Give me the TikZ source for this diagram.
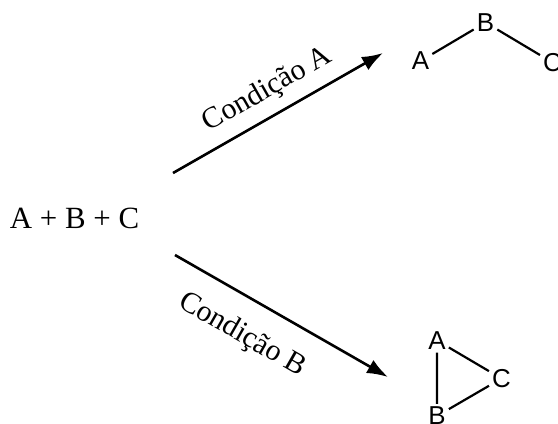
\documentclass[tikz,border=0pt]{standalone}
\usepackage{fontspec}
\setmainfont{Liberation Serif}
\newfontfamily\atomfont{Liberation Sans}
\usetikzlibrary{arrows.meta}

\begin{document}
\begin{tikzpicture}[x=1bp,y=-1bp,>={Latex[length=21bp,width=15bp]},
  every node/.style={font=\fontsize{30}{35}\selectfont},
  atom/.style={font=\atomfont\fontsize{26}{30}\selectfont,inner sep=3pt},
  bond/.style={line width=2.2bp},
  reaction/.style={->,line width=2.6bp}]
  \useasboundingbox (0,0) rectangle (558,423);
  \node[font=\fontsize{31}{36}\selectfont] (abc) at (74.5,218) {A + B + C};
  % condicao A: cadeia linear
  \node[atom] (a1) at (420.5,61) {A};
  \node[atom] (b1) at (485.5,22.5) {B};
  \node[atom] (c1) at (552.5,62.5) {C};
  \draw[bond] (a1) -- (b1) -- (c1);
  % condicao B: ciclo
  \node[atom] (a2) at (437,340.5) {A};
  \node[atom] (b2) at (437,416) {B};
  \node[atom] (c2) at (501.5,378.5) {C};
  \draw[bond] (a2) -- (b2) -- (c2) -- (a2);
  % setas
  \coordinate (upA) at (173,173);
  \coordinate (upB) at (383,53);
  \coordinate (dnA) at (175,255);
  \coordinate (dnB) at (388,377);
  \draw[reaction] (upA) -- node[sloped,above=7bp,pos=0.51] (condA) {Condição A} (upB);
  \draw[reaction] (dnA) -- node[sloped,below=18bp,pos=0.40] (condB) {Condição B} (dnB);
\end{tikzpicture}
\end{document}
